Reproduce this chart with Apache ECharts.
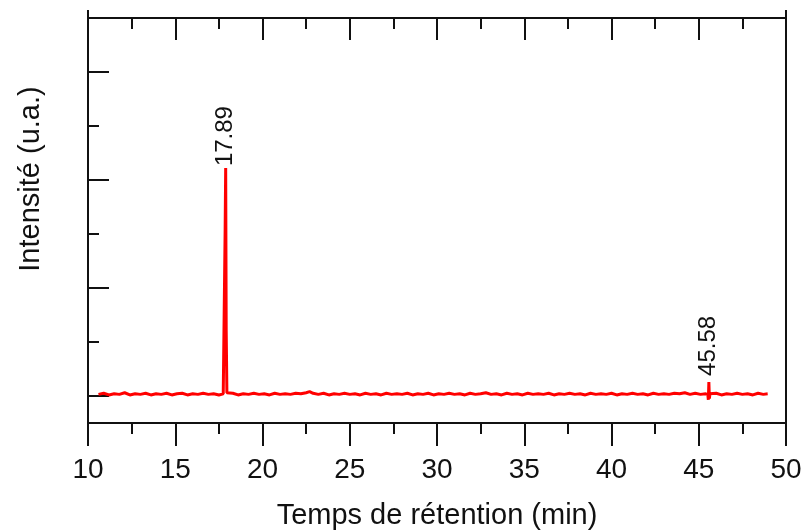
<!DOCTYPE html>
<html>
<head>
<meta charset="utf-8">
<script src="https://cdn.jsdelivr.net/npm/echarts@6/dist/echarts.min.js"></script>
<style>
  html, body { margin: 0; padding: 0; background: #fff; }
  #chart { width: 801px; height: 532px; }
</style>
</head>
<body>
<div id="chart"></div>
<script>
// retention time (min) and detector signal (a.u.)
const times = [
  10.6, 10.9, 11.2, 11.5, 11.8, 12.1, 12.4, 12.7, 13.0, 13.3, 13.6, 13.9, 14.2, 14.5, 14.8,
  15.1, 15.4, 15.7, 16.0, 16.3, 16.6, 16.9, 17.2, 17.5, 17.75, 17.82, 17.86, 17.89, 17.92, 17.96,
  18.05, 18.3, 18.6, 18.9, 19.2, 19.5, 19.8, 20.1, 20.4, 20.7, 21.0, 21.3, 21.6, 21.9, 22.2,
  22.5, 22.7, 22.9, 23.2, 23.5, 23.8, 24.1, 24.4, 24.7, 25.0, 25.3, 25.6, 25.9, 26.2, 26.5,
  26.8, 27.1, 27.4, 27.7, 28.0, 28.3, 28.6, 28.9, 29.2, 29.5, 29.8, 30.1, 30.4, 30.7, 31.0,
  31.3, 31.6, 31.9, 32.2, 32.5, 32.8, 33.1, 33.4, 33.7, 34.0, 34.3, 34.6, 34.9, 35.2, 35.5,
  35.8, 36.1, 36.4, 36.7, 37.0, 37.3, 37.6, 37.9, 38.2, 38.5, 38.8, 39.1, 39.4, 39.7, 40.0,
  40.3, 40.6, 40.9, 41.2, 41.5, 41.8, 42.1, 42.4, 42.7, 43.0, 43.3, 43.6, 43.9, 44.2, 44.5,
  44.8, 45.1, 45.4, 45.52, 45.55, 45.58, 45.61, 45.64, 45.75, 46.0, 46.3, 46.6, 46.9, 47.2, 47.5,
  47.8, 48.1, 48.4, 48.7, 48.95
];
const intensity = [
  0.03, 0.05, 0.02, 0.04, 0.03, 0.06, 0.02, 0.04, 0.03, 0.05, 0.02, 0.04, 0.03, 0.05, 0.02,
  0.04, 0.05, 0.02, 0.04, 0.03, 0.05, 0.03, 0.04, 0.02, 0.04, 0.06, 3.1, 4.22, 1.2, 0.06,
  0.03, 0.05, 0.02, 0.04, 0.03, 0.05, 0.03, 0.04, 0.02, 0.05, 0.03, 0.04, 0.03, 0.05, 0.04,
  0.06, 0.08, 0.05, 0.03, 0.05, 0.02, 0.04, 0.03, 0.05, 0.03, 0.04, 0.02, 0.05, 0.03, 0.04,
  0.02, 0.05, 0.03, 0.04, 0.03, 0.05, 0.02, 0.04, 0.03, 0.05, 0.02, 0.04, 0.03, 0.05, 0.03,
  0.04, 0.02, 0.05, 0.03, 0.04, 0.06, 0.03, 0.04, 0.02, 0.05, 0.03, 0.04, 0.02, 0.05, 0.03,
  0.04, 0.03, 0.05, 0.02, 0.04, 0.03, 0.05, 0.03, 0.04, 0.02, 0.05, 0.03, 0.04, 0.03, 0.05,
  0.02, 0.04, 0.03, 0.05, 0.03, 0.04, 0.02, 0.05, 0.03, 0.04, 0.03, 0.05, 0.04, 0.06, 0.03,
  0.05, 0.03, 0.04, 0.03, -0.07, 0.26, -0.05, 0.04, 0.03, 0.05, 0.02, 0.04, 0.03, 0.05, 0.03,
  0.04, 0.02, 0.05, 0.03, 0.04
];
const peakTimes = [17.89, 45.58];
const peakLabelGap = [2, 6];

const xTicks = [10, 15, 20, 25, 30, 35, 40, 45, 50];
const yMajorTicks = [0, 2, 4, 6];
const yMinorTicks = [1, 3, 5];

const font = "'Liberation Sans', Arial, sans-serif";
const ink = '#111';

const seriesData = times.map((t, i) => {
  const k = peakTimes.indexOf(t);
  if (k >= 0) {
    return { value: [t, intensity[i]], label: { show: true, distance: peakLabelGap[k] } };
  }
  return [t, intensity[i]];
});

const chart = echarts.init(document.getElementById('chart'), null, { renderer: 'canvas' });

const option = {
  animation: false,
  backgroundColor: '#fff',
  grid: {
    left: 88, right: 15, top: 18, bottom: 109,
    outerBoundsMode: 'none',
    containLabel: false,
    show: true, borderColor: ink, borderWidth: 2, backgroundColor: 'transparent'
  },
  graphic: [{
    type: 'text',
    x: 31, y: 179,
    rotation: Math.PI / 2,
    style: {
      text: 'Intensité (u.a.)',
      font: '29px ' + font,
      fill: ink,
      align: 'center',
      verticalAlign: 'middle'
    }
  }],
  xAxis: [{
    type: 'value',
    position: 'bottom',
    min: xTicks[0], max: xTicks[xTicks.length - 1], interval: 5,
    axisLine: { show: true, onZero: false, lineStyle: { color: ink, width: 2 } },
    axisTick: { show: true, inside: false, length: 23, lineStyle: { color: ink, width: 2 } },
    minorTick: { show: true, splitNumber: 2, length: 11, lineStyle: { color: ink, width: 2 } },
    axisLabel: { color: ink, fontSize: 28, fontFamily: font, margin: 33 },
    splitLine: { show: false },
    name: 'Temps de rétention (min)',
    nameLocation: 'middle',
    nameGap: 78,
    nameTextStyle: { color: ink, fontSize: 29, fontFamily: font }
  }, {
    type: 'value',
    position: 'top',
    min: xTicks[0], max: xTicks[xTicks.length - 1], interval: 5,
    axisLine: { show: true, onZero: false, lineStyle: { color: ink, width: 2 } },
    axisTick: { show: true, inside: true, length: 22, lineStyle: { color: ink, width: 2 } },
    minorTick: { show: true, splitNumber: 2, length: 11, lineStyle: { color: ink, width: 2 } },
    axisLabel: { show: false },
    splitLine: { show: false }
  }, {
    type: 'value',
    position: 'top',
    min: xTicks[0], max: xTicks[xTicks.length - 1],
    axisLine: { show: false, onZero: false },
    axisTick: { show: true, inside: false, length: 8, customValues: [xTicks[0], xTicks[xTicks.length - 1]], lineStyle: { color: ink, width: 2 } },
    axisLabel: { show: false },
    splitLine: { show: false }
  }],
  yAxis: [{
    type: 'value',
    position: 'left',
    min: -0.5, max: 7,
    axisLine: { show: true, onZero: false, lineStyle: { color: ink, width: 2 } },
    axisTick: { show: true, inside: true, length: 21, customValues: yMajorTicks, lineStyle: { color: ink, width: 2 } },
    axisLabel: { show: false },
    splitLine: { show: false }
  }, {
    type: 'value',
    position: 'left',
    offset: 0,
    min: -0.5, max: 7,
    axisLine: { show: false, onZero: false },
    axisTick: { show: true, inside: true, length: 11, customValues: yMinorTicks, lineStyle: { color: ink, width: 2 } },
    axisLabel: { show: false },
    splitLine: { show: false }
  }],
  series: [{
    type: 'line',
    xAxisIndex: 0,
    yAxisIndex: 0,
    data: seriesData,
    showSymbol: true,
    showAllSymbol: true,
    symbol: 'circle',
    symbolSize: 0,
    sampling: null,
    lineStyle: { color: '#ff0000', width: 3 },
    itemStyle: { color: '#ff0000' },
    label: {
      show: false,
      position: 'top',
      rotate: 90,
      align: 'left',
      verticalAlign: 'middle',
      color: ink,
      fontSize: 24,
      fontFamily: font,
      formatter: p => p.value[0].toFixed(2)
    },
    emphasis: { disabled: true },
    z: 3
  }]
};

chart.setOption(option);
</script>
</body>
</html>
